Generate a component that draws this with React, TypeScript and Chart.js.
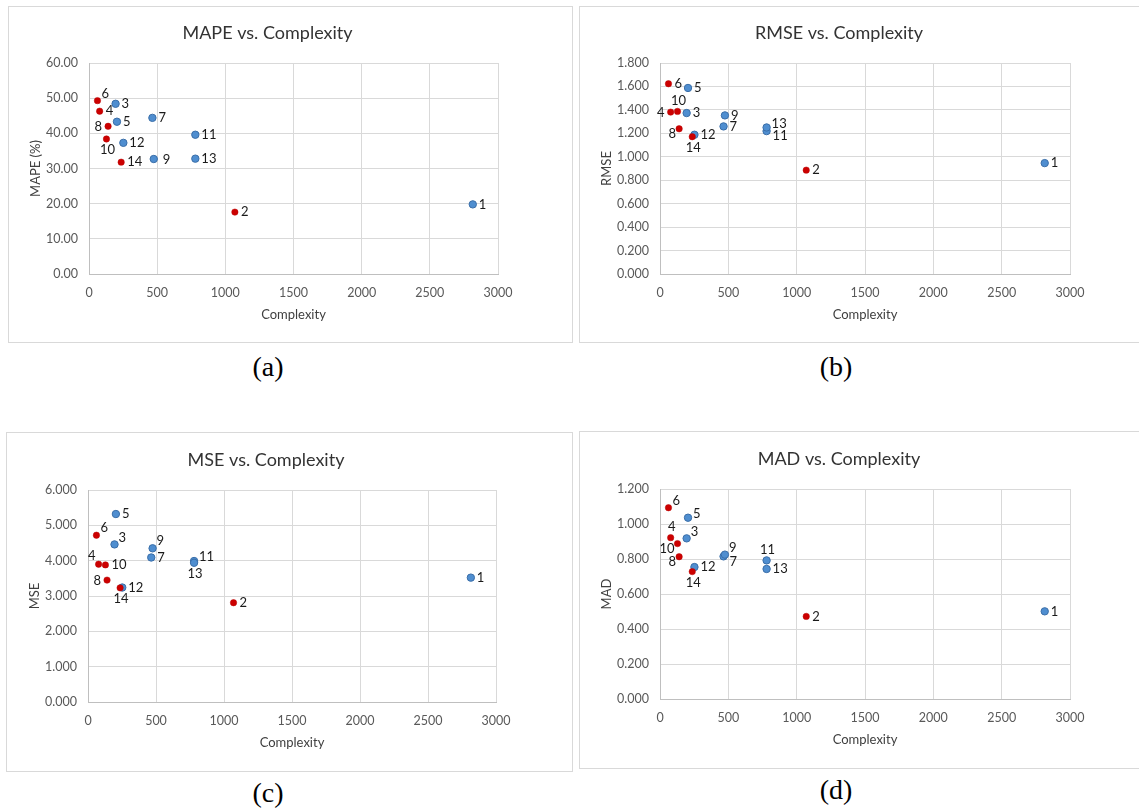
import React, { useEffect, useRef } from "react";
import { Chart, registerables } from "chart.js";

Chart.register(...registerables);

// ---------- data ----------
const pointIds = [1, 2, 3, 4, 5, 6, 7, 8, 9, 10, 11, 12, 13, 14];
const complexity = [2815, 1070, 195, 78, 205, 62, 465, 140, 475, 128, 780, 252, 780, 236];
const mapeValues = [19.8, 17.6, 48.4, 46.3, 43.3, 49.3, 44.4, 42.0, 32.7, 38.4, 39.6, 37.3, 32.8, 31.8];
const rmseValues = [0.946, 0.886, 1.373, 1.381, 1.587, 1.623, 1.259, 1.239, 1.353, 1.387, 1.219, 1.188, 1.25, 1.171];
const mseValues = [3.52, 2.81, 4.46, 3.9, 5.32, 4.72, 4.09, 3.45, 4.35, 3.88, 3.99, 3.24, 3.94, 3.23];
const madValues = [0.501, 0.472, 0.918, 0.922, 1.036, 1.093, 0.815, 0.813, 0.825, 0.888, 0.792, 0.754, 0.743, 0.728];
const redPointIds = [2, 4, 6, 8, 10, 14];
const xTickStep = 500;
const xMax = 3000;

// label placement per point id (1..14)
const placementA = ["r", "r", "r", "r", "r", "ar", "r", "l", "r2", "b", "r", "r", "r", "r"];
const placementB = ["r", "r", "r", "l", "r", "r", "r", "lb", "r", "a", "rb", "r", "ra", "b"];
const placementC = ["r", "r", "ar", "al", "r", "ar", "r", "l", "ar", "r", "ra", "r", "b", "b"];
const placementD = ["r", "r", "ar", "a", "ra", "ar", "rb", "lb", "ar", "lb", "a", "r", "r", "b"];

const OFFSETS: Record<string, { dx: number; dy: number; align: CanvasTextAlign }> = {
  r: { dx: 6, dy: 0, align: "left" },
  r2: { dx: 9, dy: 1, align: "left" },
  l: { dx: -6, dy: 1, align: "right" },
  a: { dx: 1, dy: -11, align: "center" },
  b: { dx: 1, dy: 11, align: "center" },
  ar: { dx: 4, dy: -7, align: "left" },
  ra: { dx: 5, dy: -4, align: "left" },
  rb: { dx: 6, dy: 5, align: "left" },
  lb: { dx: -3, dy: 5, align: "right" },
  al: { dx: -3, dy: -8, align: "right" },
};

const FONT = "Lato, 'Open Sans', sans-serif";

type Box = { l: number; t: number; r: number; b: number };
type PanelCfg = {
  title: string;
  yTitle: string;
  values: number[];
  yMax: number;
  yStep: number;
  decimals: number;
  placement: string[];
  box: Box;
  plot: Box;
  caption: string;
  capX: number;
  capY: number;
};

const panels: PanelCfg[] = [
  {
    title: "MAPE vs. Complexity", yTitle: "MAPE (%)", values: mapeValues, yMax: 60, yStep: 10, decimals: 2,
    placement: placementA, box: { l: 8, t: 6, r: 573, b: 343 }, plot: { l: 89, t: 63, r: 498, b: 274 },
    caption: "(a)", capX: 268, capY: 367,
  },
  {
    title: "RMSE vs. Complexity", yTitle: "RMSE", values: rmseValues, yMax: 1.8, yStep: 0.2, decimals: 3,
    placement: placementB, box: { l: 579, t: 6, r: 1148, b: 343 }, plot: { l: 660, t: 63, r: 1070, b: 274 },
    caption: "(b)", capX: 836, capY: 367,
  },
  {
    title: "MSE vs. Complexity", yTitle: "MSE", values: mseValues, yMax: 6, yStep: 1, decimals: 3,
    placement: placementC, box: { l: 6, t: 432, r: 573, b: 772 }, plot: { l: 88, t: 490, r: 496, b: 702 },
    caption: "(c)", capX: 268, capY: 793,
  },
  {
    title: "MAD vs. Complexity", yTitle: "MAD", values: madValues, yMax: 1.2, yStep: 0.2, decimals: 3,
    placement: placementD, box: { l: 579, t: 431, r: 1148, b: 769 }, plot: { l: 660, t: 489, r: 1070, b: 699 },
    caption: "(d)", capX: 836, capY: 790,
  },
];

function Panel({ cfg }: { cfg: PanelCfg }) {
  const ref = useRef<HTMLCanvasElement>(null);
  const W = cfg.box.r - cfg.box.l - 2;
  const H = cfg.box.b - cfg.box.t - 2;

  useEffect(() => {
    const canvas = ref.current!;
    const ox = cfg.box.l + 1;
    const oy = cfg.box.t + 1;
    const plotL = cfg.plot.l - ox;
    const plotR = cfg.plot.r - ox;
    const plotT = cfg.plot.t - oy;
    const plotB = cfg.plot.b - oy;

    const blue: any[] = [];
    const red: any[] = [];
    pointIds.forEach((id, i) => {
      const pt = { x: complexity[i], y: cfg.values[i], id };
      (redPointIds.includes(id) ? red : blue).push(pt);
    });

    const textPlugin = {
      id: "panelText",
      afterDatasetsDraw(chart: any) {
        const ctx: CanvasRenderingContext2D = chart.ctx;
        const ca = chart.chartArea;
        ctx.save();
        // point labels
        ctx.font = `13px ${FONT}`;
        ctx.fillStyle = "#1a1a1a";
        ctx.textBaseline = "middle";
        chart.data.datasets.forEach((ds: any, di: number) => {
          const meta = chart.getDatasetMeta(di);
          meta.data.forEach((el: any, j: number) => {
            const p = ds.data[j];
            const o = OFFSETS[cfg.placement[p.id - 1]];
            ctx.textAlign = o.align;
            ctx.fillText(String(p.id), el.x + o.dx, el.y + o.dy);
          });
        });
        // chart title
        ctx.font = `18px ${FONT}`;
        ctx.fillStyle = "#333333";
        ctx.textAlign = "center";
        ctx.textBaseline = "alphabetic";
        ctx.fillText(cfg.title, (ca.left + ca.right) / 2 - 26, ca.top - 24);
        // x title
        ctx.font = `13px ${FONT}`;
        ctx.fillStyle = "#404040";
        ctx.textBaseline = "middle";
        ctx.fillText("Complexity", (ca.left + ca.right) / 2, ca.bottom + 41);
        // y title
        ctx.translate(ca.left - 53, (ca.top + ca.bottom) / 2);
        ctx.rotate(-Math.PI / 2);
        ctx.fillText(cfg.yTitle, 0, 0);
        ctx.restore();
      },
    };

    const chart = new Chart(canvas, {
      type: "scatter",
      data: {
        datasets: [
          {
            data: red,
            pointRadius: 3.2,
            pointHoverRadius: 3.2,
            backgroundColor: "#cc0000",
            borderColor: "#b80000",
            borderWidth: 0.5,
            showLine: false,
          },
          {
            data: blue,
            pointRadius: 3.7,
            pointHoverRadius: 3.7,
            backgroundColor: "#4f8ed0",
            borderColor: "#3a6ea8",
            borderWidth: 1,
            showLine: false,
          },
        ],
      },
      options: {
        animation: false,
        responsive: false,
        events: [],
        layout: { padding: { left: 0, top: plotT, right: W - plotR, bottom: 0 } },
        plugins: { legend: { display: false }, tooltip: { enabled: false }, title: { display: false } },
        scales: {
          x: {
            type: "linear",
            min: 0,
            max: xMax,
            afterFit: (s: any) => { s.height = H - plotB; },
            ticks: {
              stepSize: xTickStep,
              padding: 11,
              color: "#595959",
              font: { family: FONT, size: 12.5 },
              callback: (v: any) => String(v),
            },
            grid: { color: "#d9d9d9", lineWidth: 1, drawTicks: false },
            border: { color: "#bfbfbf", width: 1 },
          },
          y: {
            type: "linear",
            min: 0,
            max: cfg.yMax,
            afterFit: (s: any) => { s.width = plotL; },
            ticks: {
              stepSize: cfg.yStep,
              padding: 11,
              color: "#595959",
              font: { family: FONT, size: 12.5 },
              callback: (v: any) => Number(v).toFixed(cfg.decimals),
            },
            grid: { color: "#d9d9d9", lineWidth: 1, drawTicks: false },
            border: { color: "#bfbfbf", width: 1 },
          },
        },
      },
      plugins: [textPlugin],
    } as any);
    return () => chart.destroy();
  }, [cfg]);

  return (
    <>
      <div
        style={{
          position: "absolute",
          left: cfg.box.l,
          top: cfg.box.t,
          width: cfg.box.r - cfg.box.l,
          height: cfg.box.b - cfg.box.t,
          boxSizing: "border-box",
          border: "1px solid #d9d9d9",
          background: "#ffffff",
        }}
      >
        <canvas ref={ref} width={W} height={H} style={{ position: "absolute", left: 0, top: 0, width: W, height: H }} />
      </div>
      <div
        style={{
          position: "absolute",
          left: cfg.capX - 50,
          top: cfg.capY - 16,
          width: 100,
          height: 32,
          lineHeight: "32px",
          textAlign: "center",
          fontFamily: "'Liberation Serif', 'Times New Roman', serif",
          fontSize: 28,
          color: "#000",
        }}
      >
        {cfg.caption}
      </div>
    </>
  );
}

export default function App() {
  return (
    <div style={{ position: "absolute", left: 0, top: 0, width: 1139, height: 810, overflow: "hidden", background: "#fff" }}>
      {panels.map((p) => (
        <Panel key={p.caption} cfg={p} />
      ))}
    </div>
  );
}
